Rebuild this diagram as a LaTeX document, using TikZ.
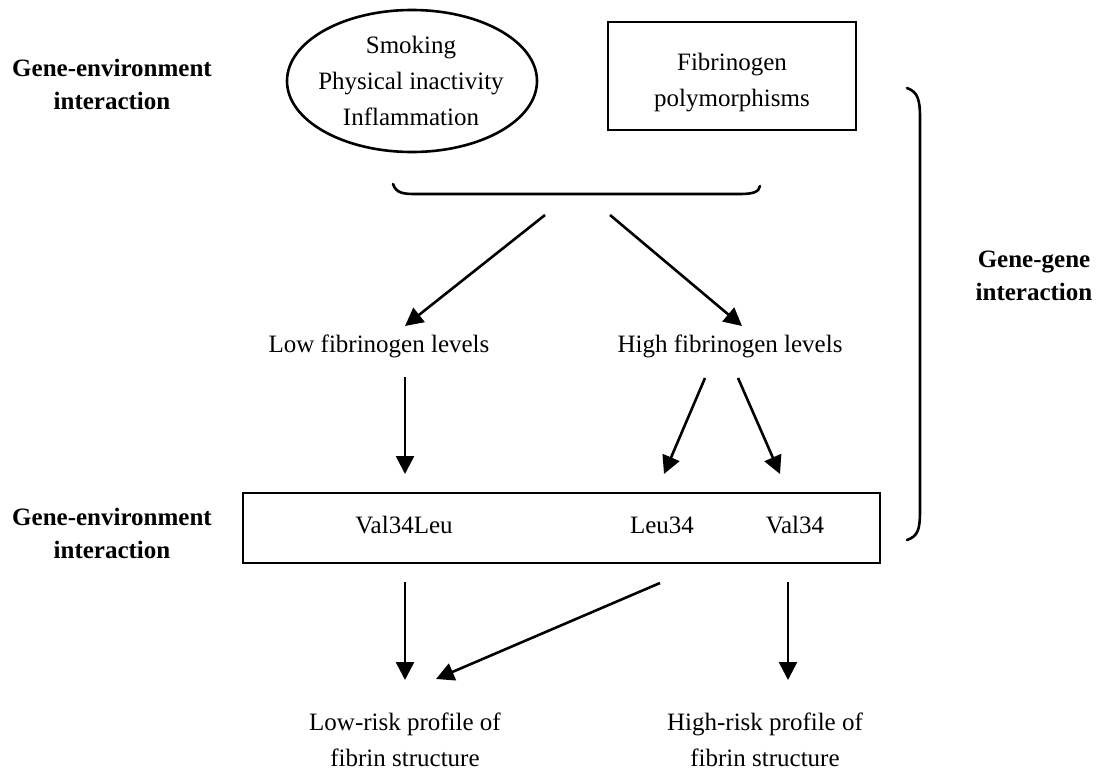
\documentclass[tikz,border=0pt]{standalone}
\usepackage{fontspec}
\setmainfont{Liberation Serif}
\usetikzlibrary{shapes.geometric,arrows.meta}
\tikzset{
  txt/.style={inner sep=0pt, align=center, font=\fontsize{25}{36}\selectfont},
  side/.style={inner sep=0pt, align=center, font=\fontsize{25}{33}\selectfont\bfseries},
  box/.style={draw, line width=2.6pt, inner sep=0pt},
  arr/.style={line width=2.6pt, -{Triangle[length=18pt,width=18pt]}},
  brk/.style={line width=2.6pt, line cap=round}
}
\begin{document}
\begin{tikzpicture}[x=1pt,y=-1pt]
\useasboundingbox (0,0) rectangle (1103,771);
% side labels
\node[side] (ge1) at (112,84) {Gene-environment\\interaction};
\node[side] (ge2) at (112,533) {Gene-environment\\interaction};
\node[side] (gg) at (1034,276) {Gene-gene\\interaction};
% top nodes
\node[box, ellipse, minimum width=250pt, minimum height=142pt] (env) at (412,81) {};
\node[txt] (envt) at (411,81) {Smoking\\Physical inactivity\\Inflammation};
\node[box, minimum width=248pt, minimum height=108pt] (poly) at (732,76) {};
\node[txt] (polyt) at (732,83) {Fibrinogen\\polymorphisms};
% bottom brace of top row
\draw[brk] (393,184) .. controls (396,193) and (403,194) .. (415,194) -- (740,194) .. controls (753,194) and (759,192) .. (760,186);
% right brace
\draw[brk] (907,88) .. controls (918,92) and (920,100) .. (920,118) -- (920,510) .. controls (920,530) and (918,536) .. (907,540);
% levels
\node[txt] (low) at (379,346) {Low fibrinogen levels};
\node[txt] (high) at (730,346) {High fibrinogen levels};
% polymorphism box
\node[box, minimum width=637pt, minimum height=70pt] (geno) at (561.5,528) {};
\node[txt] (vl) at (404,525) {Val34Leu};
\node[txt] (l34) at (662,525) {Leu34};
\node[txt] (v34) at (795,525) {Val34};
% outcomes
\node[txt] (lowrisk) at (405,740) {Low-risk profile of\\fibrin structure};
\node[txt] (highrisk) at (765,740) {High-risk profile of\\fibrin structure};
% arrow end coordinates
\coordinate (bA) at (545,215);
\coordinate (bB) at (610,215);
\coordinate (lowIn) at (405,326);
\coordinate (highIn) at (742,326);
\coordinate (lowOut) at (405,377);
\coordinate (hOut1) at (705,378);
\coordinate (hOut2) at (738,378);
\coordinate (vlIn) at (405,474);
\coordinate (l34In) at (664,474);
\coordinate (v34In) at (780,474);
\coordinate (vlOut) at (405,582);
\coordinate (l34Out) at (660,583);
\coordinate (v34Out) at (788,582);
\coordinate (lrIn1) at (405,680);
\coordinate (lrIn2) at (436,679);
\coordinate (hrIn) at (788,680);
% arrows
\draw[arr] (bA) -- (lowIn);
\draw[arr] (bB) -- (highIn);
\draw[arr] (lowOut) -- (vlIn);
\draw[arr] (hOut1) -- (l34In);
\draw[arr] (hOut2) -- (v34In);
\draw[arr] (vlOut) -- (lrIn1);
\draw[arr] (l34Out) -- (lrIn2);
\draw[arr] (v34Out) -- (hrIn);
\end{tikzpicture}
\end{document}
